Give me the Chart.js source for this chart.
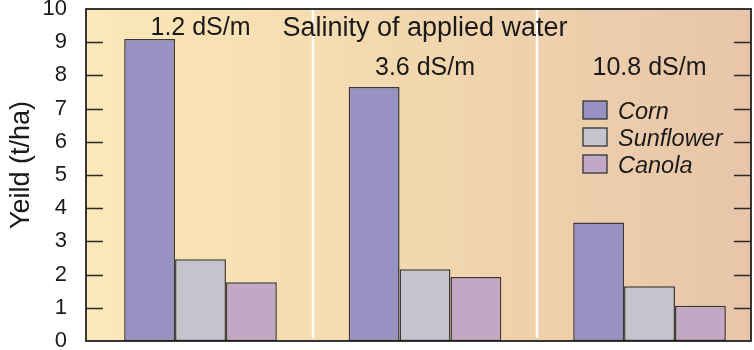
<!DOCTYPE html>
<html>
<head>
<meta charset="utf-8">
<script src="https://cdn.jsdelivr.net/npm/chart.js@4.4.1/dist/chart.umd.min.js"></script>
<style>
  html, body { margin: 0; padding: 0; background: #fff; }
</style>
</head>
<body>
<canvas id="chart" width="754" height="350"></canvas>
<script>
// salinity of applied water (one group per level)
const salinity = ["1.2 dS/m", "3.6 dS/m", "10.8 dS/m"];
const crops = ["Corn", "Sunflower", "Canola"];
const corn = [9.1, 7.65, 3.57];
const sunflower = [2.46, 2.16, 1.65];
const canola = [1.77, 1.93, 1.06];
const yTicks = [0, 1, 2, 3, 4, 5, 6, 7, 8, 9, 10];

const FONT = "'Liberation Sans', Arial, Helvetica, sans-serif";
const colors = ["#9792c1", "#c4c4cf", "#c3a8c5"];

const toPoints = (arr) => arr.map((v, i) => ({ x: i, y: v }));

const decor = {
    id: "decor",
    beforeDraw(chart) {
        const { ctx, chartArea: a } = chart;
        const g = ctx.createLinearGradient(a.left, 0, a.right, 0);
        g.addColorStop(0, "#fce8b8");
        g.addColorStop(0.5, "#f2d7ae");
        g.addColorStop(1, "#e8c5a9");
        ctx.save();
        ctx.fillStyle = g;
        ctx.fillRect(a.left, a.top, a.right - a.left, a.bottom - a.top);
        ctx.restore();
    },
    beforeDatasetsDraw(chart) {
        const { ctx, chartArea: a, scales } = chart;
        ctx.save();
        ctx.strokeStyle = "#ffffff";
        ctx.lineWidth = 2.5;
        [0.5, 1.5].forEach(v => {
            const px = Math.round(scales.x.getPixelForValue(v));
            ctx.beginPath();
            ctx.moveTo(px, a.top);
            ctx.lineTo(px, a.bottom - 3);
            ctx.stroke();
        });
        ctx.restore();
    },
    afterDraw(chart) {
        const { ctx, chartArea: a, scales } = chart;
        const x = scales.x, y = scales.y;
        ctx.save();

        // inner tick marks on both sides
        ctx.strokeStyle = "#2a2a2a";
        ctx.lineWidth = 1.3;
        yTicks.slice(1, -1).forEach(t => {
            const py = Math.round(y.getPixelForValue(t)) + 0.5;
            ctx.beginPath();
            ctx.moveTo(a.left, py);
            ctx.lineTo(a.left + 17, py);
            ctx.moveTo(a.right - 17, py);
            ctx.lineTo(a.right, py);
            ctx.stroke();
        });

        // frame
        ctx.strokeStyle = "#222";
        ctx.lineWidth = 1.8;
        ctx.strokeRect(a.left, a.top, a.right - a.left, a.bottom - a.top);

        // y axis title, sits a little above the middle
        ctx.fillStyle = "#1a1a1a";
        ctx.textAlign = "center";
        ctx.textBaseline = "middle";
        ctx.save();
        ctx.translate(22, y.getPixelForValue(5.3));
        ctx.rotate(-Math.PI / 2);
        ctx.font = "27px " + FONT;
        ctx.fillText("Yeild (t/ha)", 0, 0);
        ctx.restore();

        // texts
        ctx.font = "27px " + FONT;
        ctx.fillText("Salinity of applied water", x.getPixelForValue(1), y.getPixelForValue(9.4));

        ctx.font = "25px " + FONT;
        const labelY = [9.42, 8.22, 8.22];
        salinity.forEach((s, i) => {
            ctx.fillText(s, x.getPixelForValue(i), y.getPixelForValue(labelY[i]));
        });

        // legend
        const bx = a.right - 168, by = a.top + 92;
        ctx.textAlign = "left";
        ctx.font = "italic 23.5px " + FONT;
        crops.forEach((c, i) => {
            const top = by + i * 27;
            ctx.fillStyle = colors[i];
            ctx.fillRect(bx, top, 24, 18);
            ctx.strokeStyle = "#333";
            ctx.lineWidth = 1.3;
            ctx.strokeRect(bx, top, 24, 18);
            ctx.fillStyle = "#1a1a1a";
            ctx.fillText(c, bx + 35, top + 11);
        });
        ctx.restore();
    }
};

new Chart(document.getElementById("chart"), {
    type: "bar",
    data: {
        datasets: [
            { label: crops[0], data: toPoints(corn), backgroundColor: colors[0] },
            { label: crops[1], data: toPoints(sunflower), backgroundColor: colors[1] },
            { label: crops[2], data: toPoints(canola), backgroundColor: colors[2] }
        ].map(d => Object.assign(d, {
            borderColor: "#3a3a3a",
            borderWidth: 1.5,
            borderSkipped: false,
            categoryPercentage: 0.68,
            barPercentage: 1.0
        }))
    },
    options: {
        responsive: false,
        animation: false,
        layout: { padding: { top: 0, right: 3, bottom: 0, left: 0 } },
        plugins: {
            legend: { display: false },
            tooltip: { enabled: false }
        },
        scales: {
            x: {
                type: "linear",
                display: false,
                min: -0.51,
                max: 2.452,
                bounds: "data",
                offset: false,
                ticks: { stepSize: 1, includeBounds: false }
            },
            y: {
                min: 0,
                max: 10,
                afterFit(scale) {
                    scale.width = 86;
                    scale.paddingTop = 9;
                    scale.paddingBottom = 9;
                },
                afterBuildTicks(scale) { scale.ticks = yTicks.map(v => ({ value: v })); },
                grid: { display: false, drawTicks: false },
                border: { display: false },
                ticks: {
                    color: "#1a1a1a",
                    padding: 19,
                    font: { family: FONT, size: 22 }
                },
                title: { display: false }
            }
        }
    },
    plugins: [decor]
});
</script>
</body>
</html>
